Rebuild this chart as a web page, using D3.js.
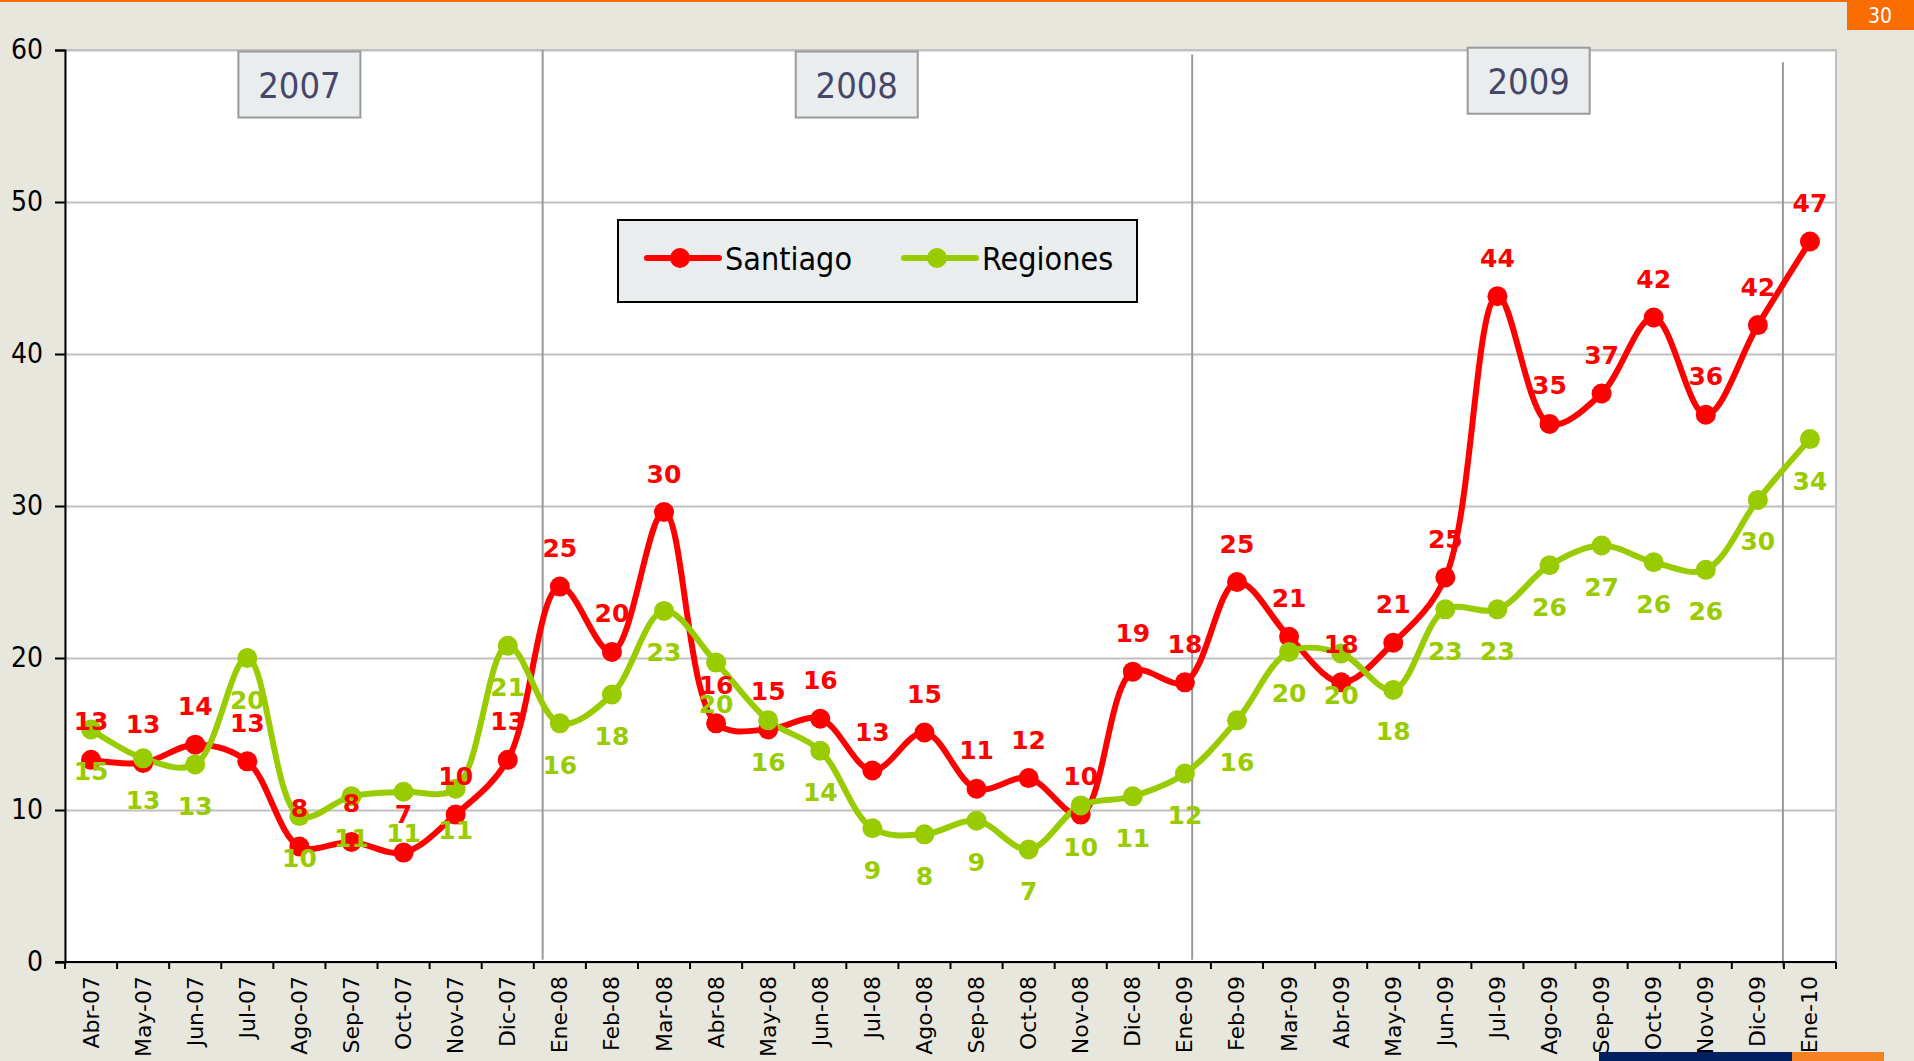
<!doctype html>
<html lang="es">
  <head>
    <meta charset="utf-8">
    <title>Santiago vs Regiones</title>
    <script src="https://d3js.org/d3.v7.min.js"></script>
    <style>
    body { margin: 0; background: #e8e7dd; }
    svg { display: block; }
    text { font-family: "DejaVu Sans", Verdana, sans-serif; }
    .cond { font-family: "DejaVu Sans Condensed", "DejaVu Sans", sans-serif; font-stretch: condensed; }
    </style>
  </head>
  <body>
    <svg width="1914" height="1061"></svg>
    <script>
      var months = ['Abr-07','May-07','Jun-07','Jul-07','Ago-07','Sep-07','Oct-07','Nov-07','Dic-07',
        'Ene-08','Feb-08','Mar-08','Abr-08','May-08','Jun-08','Jul-08','Ago-08','Sep-08','Oct-08','Nov-08','Dic-08',
        'Ene-09','Feb-09','Mar-09','Abr-09','May-09','Jun-09','Jul-09','Ago-09','Sep-09','Oct-09','Nov-09','Dic-09',
        'Ene-10'];

      var santiago = [13.3,13.1,14.3,13.2,7.6,7.9,7.2,9.7,13.3,24.7,20.4,29.6,15.7,15.3,16.0,12.6,15.1,11.4,12.1,9.7,19.1,
        18.4,25.0,21.4,18.4,21.0,25.3,43.8,35.4,37.4,42.4,36.0,41.9,47.4];
      var regiones = [15.3,13.4,13.0,20.0,9.6,10.9,11.2,11.4,20.8,15.7,17.6,23.1,19.7,15.9,13.9,8.8,8.4,9.3,7.4,10.3,10.9,
        12.4,15.9,20.4,20.3,17.9,23.2,23.2,26.1,27.4,26.3,25.8,30.4,34.4];

      var yTicks = [0, 10, 20, 30, 40, 50, 60];
      var years = ['2007', '2008', '2009'];
      var seriesNames = ['Santiago', 'Regiones'];
      var seriesColors = ['#ff0000', '#99cc00'];

      var svg = d3.select('svg');
      var pLeft = 65, pRight = 1836, pTop = 50, pBottom = 962;

      var x = d3.scaleBand().domain(months).range([pLeft, pRight]).padding(0);
      var y = d3.scaleLinear().domain([0, 60]).range([pBottom, pTop]);
      var bw = x.bandwidth();
      var cx = function(i){ return x(months[i]) + bw / 2; };

      // top orange strip and page number
      svg.append('rect').attr('x', 0).attr('y', 0).attr('width', 1914).attr('height', 2).attr('fill', '#ff6a00');
      svg.append('rect').attr('x', 1847).attr('y', 0).attr('width', 67).attr('height', 30).attr('fill', '#f96c00');
      svg.append('text').attr('class', 'cond').attr('x', 1880).attr('y', 16).attr('text-anchor', 'middle')
        .attr('dominant-baseline', 'central').attr('fill', '#fff').attr('font-size', 21).text('30');

      // bottom bars
      svg.append('rect').attr('x', 1599).attr('y', 1052).attr('width', 193).attr('height', 9).attr('fill', '#00205f');
      svg.append('rect').attr('x', 1792).attr('y', 1052).attr('width', 92).attr('height', 9).attr('fill', '#f58220');

      // plot area
      svg.append('rect').attr('x', pLeft).attr('y', pTop).attr('width', pRight - pLeft).attr('height', pBottom - pTop)
        .attr('fill', '#fff').attr('stroke', '#c0c0c0').attr('stroke-width', 2);

      // gridlines
      svg.append('g')
        .attr('transform', 'translate(' + pLeft + ',0)')
        .call(d3.axisLeft(y).tickValues(yTicks).tickSize(-(pRight - pLeft)).tickFormat(''))
        .call(function(g){
          g.select('.domain').remove();
          g.selectAll('line').attr('stroke', '#c0c0c0').attr('stroke-width', 2);
        });

      // year separators
      var seps = [
        {x: x('Ene-08') + 0.17 * bw, y0: 60, y1: 0.15},
        {x: x('Ene-09') + 0.64 * bw, y0: 59.7, y1: 0.15},
        {x: x('Ene-10') - 1, y0: 59.2, y1: -0.3}
      ];
      svg.selectAll('line.sep').data(seps).enter().append('line')
        .attr('class', 'sep')
        .attr('x1', function(d){ return d.x; }).attr('x2', function(d){ return d.x; })
        .attr('y1', function(d){ return y(d.y0); }).attr('y2', function(d){ return y(d.y1); })
        .attr('stroke', '#9a9a9a').attr('stroke-width', 2);

      // year boxes
      var yearPos = [x('Ago-07') + 0.5 * bw, x('Jul-08') + 0.2 * bw, x('Ago-09') + 0.1 * bw];
      var yearTop = [59.9, 59.9, 60.15];
      years.forEach(function(yr, i){
        var g = svg.append('g').attr('transform', 'translate(' + yearPos[i] + ',' + y(yearTop[i]) + ')');
        g.append('rect').attr('x', -61).attr('y', 0).attr('width', 122).attr('height', 66)
          .attr('fill', '#e9edee').attr('stroke', '#9a9a9a').attr('stroke-width', 2);
        g.append('text').attr('class', 'cond').attr('x', 0).attr('y', 34).attr('text-anchor', 'middle')
          .attr('dominant-baseline', 'central').attr('font-size', 36).attr('fill', '#46466a').text(yr);
      });

      // y axis
      svg.append('g')
        .attr('transform', 'translate(' + pLeft + ',0)')
        .call(d3.axisLeft(y).tickValues(yTicks).tickSize(10).tickPadding(12))
        .call(function(g){
          g.select('.domain').attr('stroke', '#000').attr('stroke-width', 2);
          g.selectAll('line').attr('stroke', '#000').attr('stroke-width', 2);
          g.selectAll('text').attr('class', 'cond').attr('font-size', 28).attr('fill', '#000')
            .attr('font-family', null);
        });

      // x axis
      var xAxis = svg.append('g').attr('transform', 'translate(0,' + pBottom + ')');
      xAxis.append('line').attr('x1', pLeft - 10).attr('x2', pRight).attr('y1', 0).attr('y2', 0)
        .attr('stroke', '#000').attr('stroke-width', 2);
      xAxis.selectAll('line.tk').data(months.concat(['end'])).enter().append('line')
        .attr('class', 'tk')
        .attr('x1', function(d){ return d === 'end' ? pRight : x(d); })
        .attr('x2', function(d){ return d === 'end' ? pRight : x(d); })
        .attr('y1', 0).attr('y2', 7).attr('stroke', '#000').attr('stroke-width', 2);
      xAxis.selectAll('text').data(months).enter().append('text')
        .attr('transform', function(d){ return 'translate(' + (x(d) + bw / 2) + ',14) rotate(-90)'; })
        .attr('text-anchor', 'end').attr('dominant-baseline', 'central')
        .attr('font-size', 22).attr('fill', '#000').text(function(d){ return d; });

      // lines
      var line = d3.line()
        .x(function(d, i){ return cx(i); })
        .y(function(d){ return y(d); })
        .curve(d3.curveCatmullRom.alpha(0.5));

      var allSeries = [santiago, regiones];
      var labelOffset = [-38, 42];
      allSeries.forEach(function(vals, s){
        svg.append('path').datum(vals).attr('d', line)
          .attr('fill', 'none').attr('stroke', seriesColors[s]).attr('stroke-width', 6)
          .attr('stroke-linejoin', 'round');
      });
      allSeries.forEach(function(vals, s){
        svg.append('g').selectAll('circle').data(vals).enter().append('circle')
          .attr('cx', function(d, i){ return cx(i); })
          .attr('cy', function(d){ return y(d); })
          .attr('r', 10).attr('fill', seriesColors[s]);
      });
      allSeries.forEach(function(vals, s){
        svg.append('g').selectAll('text').data(vals).enter().append('text')
          .attr('x', function(d, i){ return cx(i); })
          .attr('y', function(d){ return y(d) + labelOffset[s]; })
          .attr('text-anchor', 'middle').attr('dominant-baseline', 'central')
          .attr('font-size', 25).attr('font-weight', 'bold').attr('fill', seriesColors[s])
          .text(function(d){ return Math.round(d); });
      });

      // legend
      var lg = svg.append('g').attr('transform', 'translate(618,220)');
      lg.append('rect').attr('width', 519).attr('height', 82)
        .attr('fill', '#e9edee').attr('stroke', '#000').attr('stroke-width', 2);
      var lx = [29, 286];
      seriesNames.forEach(function(name, s){
        lg.append('line').attr('x1', lx[s]).attr('x2', lx[s] + 72).attr('y1', 38).attr('y2', 38)
          .attr('stroke', seriesColors[s]).attr('stroke-width', 6).attr('stroke-linecap', 'round');
        lg.append('circle').attr('cx', lx[s] + 33).attr('cy', 38).attr('r', 10).attr('fill', seriesColors[s]);
        lg.append('text').attr('class', 'cond').attr('x', lx[s] + 78).attr('y', 39).attr('dominant-baseline', 'central')
          .attr('font-size', 32).attr('fill', '#000').text(name);
      });
    </script>
  </body>
</html>
